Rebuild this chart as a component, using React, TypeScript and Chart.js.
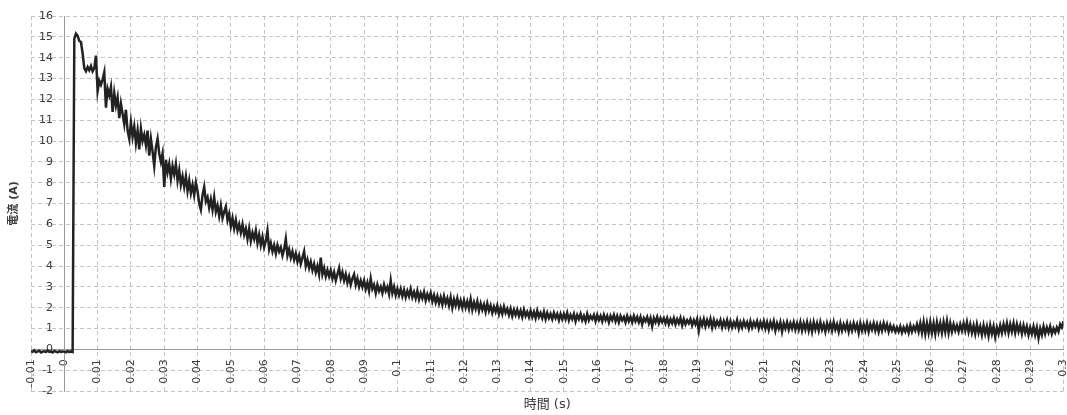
import React, { useEffect, useRef } from "react";
import { Chart, registerables } from "chart.js";

Chart.register(...registerables);

// Sampling grid of the recorded current (s)
const T_START = -0.01;
const T_STEP = 0.0005;

// Current samples (A), one row = 10 ms
const preTrigger = [
  -0.08, -0.12, -0.05, -0.14, -0.1, -0.07, -0.15, -0.11, -0.09, -0.13, -0.06, -0.12, -0.1, -0.15, -0.08, -0.11, -0.14, -0.09, -0.12, -0.1,
];
const rise0to10ms = [
  -0.11, -0.14, -0.08, -0.13, -0.1, -0.12, 14.9, 15.15, 15.05, 14.8, 14.75, 14.2, 13.5, 13.35, 13.55, 13.4, 13.6, 13.35, 13.5, 14.1,
];
const decay10to50ms = [
  12.4, 12.9, 12.7, 12.95, 13.3, 11.6, 12.5, 12.2, 12.6, 11.4, 12.3, 11.7, 12.1, 11.1, 11.8, 11.3, 10.8, 11.5, 10.5, 10.1,
  10.9, 10.2, 10.7, 9.9, 10.5, 9.6, 10.6, 10.0, 10.3, 9.8, 10.5, 9.3, 10.1, 9.5, 8.8, 9.7, 10.1, 9.4, 9.0, 9.4,
  7.8, 9.1, 8.5, 8.9, 8.2, 8.8, 8.4, 8.9, 8.1, 8.6, 7.9, 8.3, 7.8, 8.3, 7.6, 8.1, 7.5, 7.9, 7.4, 8.0,
  7.6, 7.0, 6.7, 7.4, 7.8, 7.1, 7.3, 6.8, 7.2, 6.7, 7.3, 6.6, 6.9, 6.4, 6.9, 6.3, 6.6, 6.85, 6.2, 6.5,
];
const decay50to100ms = [
  5.9, 6.3, 5.8, 6.2, 5.7, 6.0, 5.6, 6.0, 5.5, 5.8, 5.3, 5.8, 5.2, 5.6, 5.3, 5.7, 5.1, 5.5, 5.0, 5.4,
  4.9, 5.2, 5.7, 4.8, 5.1, 4.7, 5.0, 4.6, 5.0, 4.7, 4.9, 4.5, 4.8, 5.3, 4.5, 4.8, 4.4, 4.7, 4.3, 4.6,
  4.2, 4.5, 4.1, 4.4, 4.7, 4.0, 4.3, 3.9, 4.2, 3.8, 4.1, 3.7, 4.0, 3.6, 4.4, 3.6, 3.9, 3.5, 3.8, 3.5,
  3.8, 3.4, 3.7, 3.3, 3.6, 3.9, 3.4, 3.7, 3.3, 3.6, 3.2, 3.5, 3.1, 3.4, 3.6, 3.1, 3.4, 3.0, 3.3, 3.0,
  3.3, 2.9, 3.2, 2.8, 3.4, 2.9, 3.1, 2.7, 3.1, 2.8, 3.0, 2.7, 3.1, 2.8, 3.0, 2.65, 3.3, 2.7, 3.0, 2.6,
];
const decay100to150ms = [
  2.9, 2.6, 2.9, 2.55, 2.85, 2.5, 2.8, 2.55, 2.9, 2.5, 2.75, 2.45, 2.8, 2.4, 2.7, 2.45, 2.75, 2.35, 2.65, 2.4,
  2.7, 2.3, 2.6, 2.25, 2.55, 2.2, 2.5, 2.15, 2.55, 2.2, 2.45, 2.1, 2.5, 2.0, 2.4, 2.1, 2.45, 2.05, 2.35, 2.0,
  2.35, 2.0, 2.3, 1.95, 2.4, 1.9, 2.25, 1.95, 2.3, 1.85, 2.2, 1.9, 2.15, 1.8, 2.2, 1.85, 2.1, 1.75, 2.05, 1.8,
  2.1, 1.7, 2.0, 1.7, 2.05, 1.75, 1.95, 1.65, 1.95, 1.6, 1.9, 1.65, 1.9, 1.6, 1.85, 1.55, 1.9, 1.6, 1.8, 1.55,
  1.85, 1.55, 1.8, 1.5, 1.85, 1.55, 1.75, 1.5, 1.8, 1.45, 1.75, 1.5, 1.7, 1.45, 1.75, 1.5, 1.7, 1.4, 1.7, 1.45,
];
const decay150to200ms = [
  1.7, 1.45, 1.75, 1.4, 1.65, 1.45, 1.7, 1.35, 1.65, 1.45, 1.7, 1.4, 1.6, 1.35, 1.7, 1.4, 1.6, 1.45, 1.65, 1.35,
  1.65, 1.4, 1.6, 1.35, 1.65, 1.4, 1.6, 1.3, 1.6, 1.4, 1.65, 1.35, 1.6, 1.3, 1.6, 1.4, 1.55, 1.3, 1.6, 1.35,
  1.55, 1.3, 1.6, 1.35, 1.55, 1.3, 1.55, 1.2, 1.5, 1.35, 1.55, 1.25, 1.5, 1.1, 1.5, 1.3, 1.55, 1.25, 1.5, 1.3,
  1.5, 1.25, 1.5, 1.2, 1.45, 1.25, 1.5, 1.2, 1.45, 1.25, 1.5, 1.15, 1.45, 1.2, 1.4, 1.25, 1.45, 1.15, 1.4, 1.2,
  1.45, 0.9, 1.4, 1.15, 1.45, 1.1, 1.4, 1.15, 1.45, 1.05, 1.4, 1.1, 1.35, 1.15, 1.4, 1.05, 1.35, 1.1, 1.4, 1.05,
];
const decay200to250ms = [
  1.35, 1.05, 1.3, 1.1, 1.4, 1.0, 1.3, 1.05, 1.35, 1.1, 1.3, 1.0, 1.35, 1.05, 1.3, 1.1, 1.35, 1.0, 1.3, 1.05,
  1.35, 1.0, 1.3, 0.95, 1.3, 1.05, 1.35, 0.9, 1.25, 1.0, 1.3, 0.85, 1.25, 1.0, 1.3, 0.95, 1.25, 1.0, 1.3, 0.95,
  1.25, 0.95, 1.3, 0.9, 1.25, 0.95, 1.3, 0.9, 1.25, 0.85, 1.3, 0.95, 1.25, 0.9, 1.3, 0.95, 1.2, 0.85, 1.25, 0.95,
  1.25, 0.9, 1.3, 0.95, 1.2, 0.85, 1.25, 0.9, 1.2, 0.95, 1.25, 0.85, 1.2, 0.9, 1.25, 0.95, 1.2, 0.8, 1.25, 0.9,
  1.2, 0.9, 1.25, 0.85, 1.2, 0.95, 1.25, 0.9, 1.2, 0.85, 1.2, 0.9, 1.25, 0.95, 1.2, 0.85, 1.15, 0.9, 1.1, 0.85,
];
const decay250to300ms = [
  1.05, 0.85, 1.1, 0.8, 1.05, 0.85, 1.1, 0.8, 1.15, 0.85, 1.1, 0.9, 1.2, 0.85, 1.25, 0.8, 1.3, 0.75, 1.25, 0.8,
  1.3, 0.8, 1.25, 0.75, 1.3, 0.85, 1.25, 0.8, 1.3, 0.85, 1.35, 0.8, 1.25, 0.85, 1.2, 0.9, 1.15, 0.85, 1.2, 0.9,
  1.25, 0.9, 1.3, 0.85, 1.2, 0.8, 1.15, 0.75, 1.2, 0.8, 1.1, 0.7, 1.15, 0.75, 1.1, 0.65, 1.15, 0.75, 1.1, 0.6,
  1.05, 0.75, 1.15, 0.8, 1.2, 0.85, 1.25, 0.8, 1.2, 0.85, 1.25, 0.8, 1.2, 0.85, 1.15, 0.75, 1.15, 0.8, 1.1, 0.7,
  1.05, 0.75, 1.1, 0.7, 1.05, 0.55, 1.0, 0.7, 1.1, 0.75, 1.05, 0.8, 1.1, 0.75, 1.0, 0.8, 1.05, 0.85, 1.2, 1.05, 1.35,
];

// Tick values
const X_TICKS = [
  -0.01, 0, 0.01, 0.02, 0.03, 0.04, 0.05, 0.06, 0.07, 0.08, 0.09, 0.1, 0.11, 0.12, 0.13, 0.14, 0.15,
  0.16, 0.17, 0.18, 0.19, 0.2, 0.21, 0.22, 0.23, 0.24, 0.25, 0.26, 0.27, 0.28, 0.29, 0.3,
];
const Y_TICKS = [-2, -1, 0, 1, 2, 3, 4, 5, 6, 7, 8, 9, 10, 11, 12, 13, 14, 15, 16];

const X_TITLE = "時間 (s)";
const Y_TITLE = "電流 (A)";

const X_MIN = -0.01;
const X_MAX = 0.3;
const Y_MIN = -2;
const Y_MAX = 16;
// x value at which the y tick labels end (labels sit a little left of the x = 0 axis)
const Y_LABEL_ANCHOR_X = -0.0034;

const FONT_FAMILY = '"DejaVu Sans", "Noto Sans CJK JP", sans-serif';
const GRID_COLOR = "#c4c4c4";
const AXIS_COLOR = "#9a9a9a";
const TEXT_COLOR = "#3a3a3a";

export default function App() {
  const canvasRef = useRef<HTMLCanvasElement | null>(null);

  useEffect(() => {
    const canvas = canvasRef.current;
    if (!canvas) return;

    const current = [
      ...preTrigger,
      ...rise0to10ms,
      ...decay10to50ms,
      ...decay50to100ms,
      ...decay100to150ms,
      ...decay150to200ms,
      ...decay200to250ms,
      ...decay250to300ms,
    ];
    const points = current.map((v, i) => ({
      x: Number((T_START + i * T_STEP).toFixed(4)),
      y: v,
    }));

    const setXTicks = (scale: any) => {
      scale.ticks = X_TICKS.map((v) => ({ value: v }));
    };
    const setYTicks = (scale: any) => {
      scale.ticks = Y_TICKS.map((v) => ({ value: v }));
    };
    const noVertPad = (scale: any) => {
      scale.paddingTop = 0;
      scale.paddingBottom = 0;
    };

    const chart = new Chart(canvas, {
      type: "line",
      data: {
        datasets: [
          {
            data: points,
            xAxisID: "x",
            yAxisID: "y",
            borderColor: "#222222",
            borderWidth: 2.5,
            borderJoinStyle: "miter",
            pointRadius: 0,
            tension: 0,
            fill: false,
          },
        ],
      },
      options: {
        responsive: false,
        animation: false,
        devicePixelRatio: 1,
        parsing: false as any,
        normalized: true,
        layout: { padding: { top: 16, right: 3.5, left: 0, bottom: 0 } },
        plugins: {
          legend: { display: false },
          tooltip: { enabled: false },
        },
        scales: {
          x: {
            type: "linear",
            position: "bottom",
            min: X_MIN,
            max: X_MAX,
            afterBuildTicks: setXTicks,
            ticks: { display: false },
            grid: { color: GRID_COLOR, lineWidth: 1, drawTicks: false },
            border: { display: false, dash: [4, 3] },
            title: {
              display: true,
              text: X_TITLE,
              color: TEXT_COLOR,
              font: { family: FONT_FAMILY, size: 13 },
              padding: { top: 6.2, bottom: 2.2 },
            },
          },
          y: {
            type: "linear",
            position: "left",
            min: Y_MIN,
            max: Y_MAX,
            afterBuildTicks: setYTicks,
            ticks: { display: false },
            grid: { color: GRID_COLOR, lineWidth: 1, drawTicks: false },
            border: { display: false, dash: [4, 3] },
            title: {
              display: true,
              text: Y_TITLE,
              color: TEXT_COLOR,
              font: { family: FONT_FAMILY, size: 11, weight: "bold" },
              padding: { top: 7.4, bottom: 10.4 },
            },
          },
          xAxis0: {
            type: "linear",
            position: { y: 0 } as any,
            min: X_MIN,
            max: X_MAX,
            afterBuildTicks: setXTicks,
            afterFit: (scale: any) => {
              scale.paddingLeft = 0;
              scale.paddingRight = 0;
            },
            ticks: {
              autoSkip: false,
              minRotation: 90,
              maxRotation: 90,
              padding: 10,
              color: TEXT_COLOR,
              font: { family: FONT_FAMILY, size: 11 },
              callback: (v: any) => String(v),
            },
            grid: { drawOnChartArea: false, drawTicks: false },
            border: { display: true, color: AXIS_COLOR, width: 1 },
          },
          yAxis0: {
            type: "linear",
            position: { x: 0 } as any,
            min: Y_MIN,
            max: Y_MAX,
            afterBuildTicks: setYTicks,
            afterFit: noVertPad,
            ticks: { display: false },
            grid: { drawOnChartArea: false, drawTicks: false },
            border: { display: true, color: AXIS_COLOR, width: 1 },
          },
          yLabels: {
            type: "linear",
            position: { x: Y_LABEL_ANCHOR_X } as any,
            min: Y_MIN,
            max: Y_MAX,
            afterBuildTicks: setYTicks,
            afterFit: noVertPad,
            ticks: {
              padding: 0,
              color: TEXT_COLOR,
              font: { family: FONT_FAMILY, size: 11 },
              callback: (v: any) => String(v),
            },
            grid: { drawOnChartArea: false, drawTicks: false },
            border: { display: false },
          },
        },
      },
    } as any);

    return () => chart.destroy();
  }, []);

  return (
    <div style={{ position: "fixed", left: 0, top: 0, width: 1067, height: 415, background: "#ffffff" }}>
      <canvas ref={canvasRef} width={1067} height={415} style={{ display: "block" }} />
    </div>
  );
}
